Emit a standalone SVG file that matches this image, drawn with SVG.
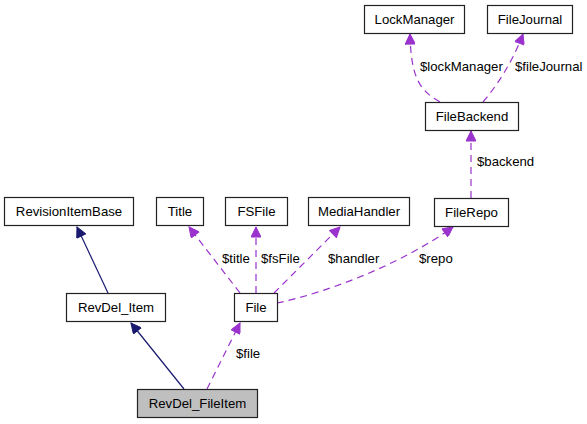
<svg xmlns="http://www.w3.org/2000/svg" width="587" height="424" viewBox="0 0 587 424">
<style>
.box{fill:#fff;stroke:#222;stroke-width:1.2}
.t{font-family:"Liberation Sans",Arial,sans-serif;font-size:13.2px;fill:#000}
.c{text-anchor:middle}
.inh{fill:none;stroke:#191970;stroke-width:1.2}
.use{fill:none;stroke:#9a32cd;stroke-width:1.2;stroke-dasharray:7,5}
</style>
<defs>
<marker id="aN" viewBox="0 0 10 10" markerUnits="userSpaceOnUse" markerWidth="12" markerHeight="10" refX="10" refY="5" orient="auto"><path d="M0,0 L10,5 L0,10 z" fill="#191970" stroke="#191970"/></marker>
<marker id="aP" viewBox="0 0 10 10" markerUnits="userSpaceOnUse" markerWidth="12" markerHeight="10" refX="10" refY="5" orient="auto"><path d="M0,0 L10,5 L0,10 z" fill="#9a32cd" stroke="#9a32cd"/></marker>
</defs>
<rect width="587" height="424" fill="#fff"/>
<g id="edges">
<path class="inh" d="M108,293 L77,227" marker-end="url(#aN)"/>
<path class="inh" d="M184,389 L131,323" marker-end="url(#aN)"/>
<path class="use" d="M207,389 L240,323" marker-end="url(#aP)"/>
<path class="use" d="M240,293 L189,227" marker-end="url(#aP)"/>
<path class="use" d="M256,293 L256,227" marker-end="url(#aP)"/>
<path class="use" d="M274,293 L340,227" marker-end="url(#aP)"/>
<path class="use" d="M277,303 C330,292 405,262 453,227" marker-end="url(#aP)"/>
<path class="use" d="M471,198 L471,131" marker-end="url(#aP)"/>
<path class="use" d="M440,102 C418,90 411,75 410,34" marker-end="url(#aP)"/>
<path class="use" d="M483,102 C500,82 514,58 523,34" marker-end="url(#aP)"/>
<text class="t" x="236" y="358">$file</text>
<text class="t" x="222" y="263">$title</text>
<text class="t" x="261" y="263">$fsFile</text>
<text class="t" x="328" y="263">$handler</text>
<text class="t" x="419" y="263">$repo</text>
<text class="t" x="477" y="166">$backend</text>
<text class="t" x="420" y="71">$lockManager</text>
<text class="t" x="515" y="71">$fileJournal</text>
</g>
<g id="LockManager"><rect class="box" x="364.5" y="5.5" width="100" height="28"/><text class="t c" x="414.5" y="24">LockManager</text></g>
<g id="FileJournal"><rect class="box" x="487.5" y="5.5" width="85" height="28"/><text class="t c" x="530" y="24">FileJournal</text></g>
<g id="FileBackend"><rect class="box" x="425.5" y="102.5" width="93" height="28"/><text class="t c" x="472" y="121">FileBackend</text></g>
<g id="FileRepo"><rect class="box" x="434.5" y="198.5" width="74" height="28"/><text class="t c" x="471.5" y="217">FileRepo</text></g>
<g id="RevisionItemBase"><rect class="box" x="4.5" y="197.5" width="129" height="28"/><text class="t c" x="69" y="216">RevisionItemBase</text></g>
<g id="Title"><rect class="box" x="156.5" y="197.5" width="47" height="28"/><text class="t c" x="180" y="216">Title</text></g>
<g id="FSFile"><rect class="box" x="225.5" y="197.5" width="62" height="28"/><text class="t c" x="256.5" y="216">FSFile</text></g>
<g id="MediaHandler"><rect class="box" x="308.5" y="197.5" width="101" height="28"/><text class="t c" x="359" y="216">MediaHandler</text></g>
<g id="RevDel_Item"><rect class="box" x="66.5" y="293.5" width="99" height="28"/><text class="t c" x="116" y="312">RevDel_Item</text></g>
<g id="File"><rect class="box" x="234.5" y="293.5" width="43" height="28"/><text class="t c" x="256" y="312">File</text></g>
<g id="RevDel_FileItem"><rect class="box" x="137.5" y="389.5" width="120" height="28" style="fill:#bfbfbf"/><text class="t c" x="197.5" y="408">RevDel_FileItem</text></g>
</svg>
